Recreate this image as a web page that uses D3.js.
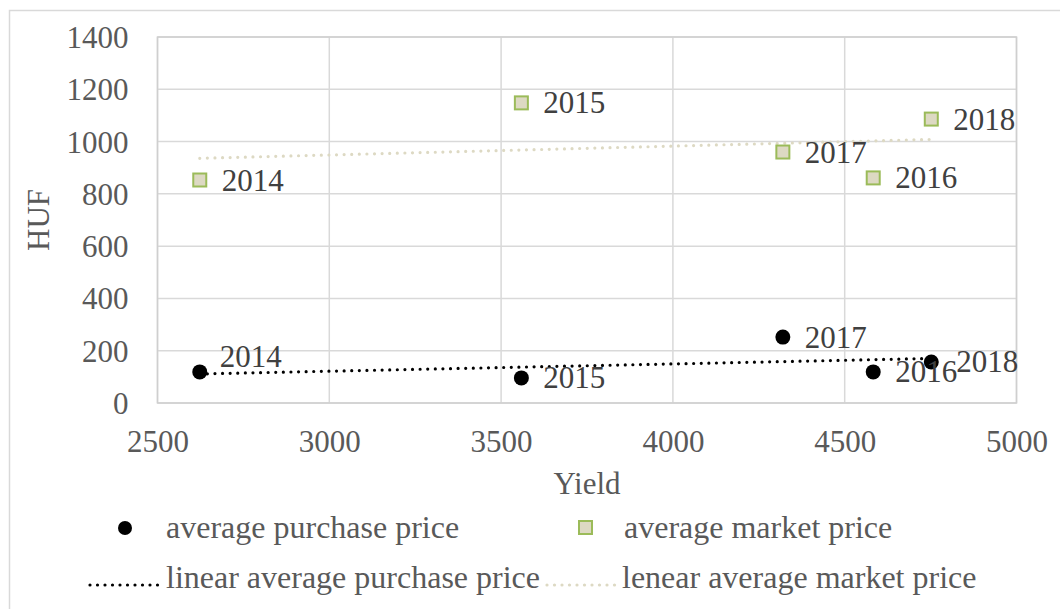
<!DOCTYPE html>
<html>
<head>
<meta charset="utf-8">
<script src="https://cdn.jsdelivr.net/npm/d3@7"></script>
<style>
  html, body { margin: 0; padding: 0; background: #ffffff; }
  svg { display: block; font-family: "Liberation Serif", "Times New Roman", serif; }
</style>
</head>
<body>
<svg id="chart" width="1060" height="609"></svg>
<script>
// Yield vs. price per year
const years = ["2014", "2015", "2016", "2017", "2018"];
const yieldValues = [2623, 3559, 4583, 4320, 4752];
const purchasePrice = [119, 96, 119, 252, 157];
const marketPrice = [853, 1148, 861, 960, 1086];

const xTicks = [2500, 3000, 3500, 4000, 4500, 5000];
const yTicks = [0, 200, 400, 600, 800, 1000, 1200, 1400];

const svg = d3.select("#chart");
const W = 1060, H = 609;
const plot = { left: 157.5, top: 37, right: 1016.5, bottom: 403 };

const x = d3.scaleLinear().domain([2500, 5000]).range([plot.left, plot.right]);
const y = d3.scaleLinear().domain([0, 1400]).range([plot.bottom, plot.top]);

const tickColor = "#595959";
const labelColor = "#404040";
const fontSize = 31;

// outer chart frame
svg.append("rect")
  .attr("x", 9.5).attr("y", 10.5)
  .attr("width", W).attr("height", H)
  .attr("fill", "none").attr("stroke", "#d9d9d9").attr("stroke-width", 1.5);

// gridlines
const grid = svg.append("g");
grid.selectAll("line.v").data(xTicks).join("line")
  .attr("x1", d => x(d)).attr("x2", d => x(d))
  .attr("y1", plot.top).attr("y2", plot.bottom)
  .attr("stroke", "#d9d9d9").attr("stroke-width", 1.5);
grid.selectAll("line.h").data(yTicks).join("line")
  .attr("x1", plot.left).attr("x2", plot.right)
  .attr("y1", d => y(d)).attr("y2", d => y(d))
  .attr("stroke", "#d9d9d9").attr("stroke-width", 1.5);
// plot frame
svg.append("rect")
  .attr("x", plot.left).attr("y", plot.top)
  .attr("width", plot.right - plot.left).attr("height", plot.bottom - plot.top)
  .attr("fill", "none").attr("stroke", "#cfcfcf").attr("stroke-width", 1.5);

// axes (labels only, lines drawn as gridlines)
const xAxis = svg.append("g")
  .attr("transform", `translate(0,${plot.bottom})`)
  .call(d3.axisBottom(x).tickValues(xTicks).tickSize(0).tickPadding(0).tickFormat(d3.format("d")));
xAxis.select(".domain").remove();
xAxis.selectAll("text")
  .attr("y", 49).attr("dy", null)
  .attr("font-size", fontSize).attr("fill", tickColor)
  .attr("font-family", "Liberation Serif");

const yAxis = svg.append("g")
  .attr("transform", `translate(${plot.left},0)`)
  .call(d3.axisLeft(y).tickValues(yTicks).tickSize(0).tickFormat(d3.format("d")));
yAxis.select(".domain").remove();
yAxis.selectAll("text")
  .attr("x", -29).attr("dy", "0.34em")
  .attr("font-size", fontSize).attr("fill", tickColor)
  .attr("font-family", "Liberation Serif");

// axis titles
svg.append("text")
  .attr("x", (plot.left + plot.right) / 2).attr("y", 494)
  .attr("text-anchor", "middle").attr("font-size", fontSize).attr("fill", tickColor)
  .text("Yield");
svg.append("text")
  .attr("transform", `translate(49,${(plot.top + plot.bottom) / 2}) rotate(-90)`)
  .attr("text-anchor", "middle").attr("font-size", fontSize).attr("fill", tickColor)
  .text("HUF");

// least-squares trendline between the smallest and largest yield
function trend(xs, ys) {
  const n = xs.length;
  const mx = d3.mean(xs), my = d3.mean(ys);
  let sxy = 0, sxx = 0;
  for (let i = 0; i < n; i++) {
    sxy += (xs[i] - mx) * (ys[i] - my);
    sxx += (xs[i] - mx) * (xs[i] - mx);
  }
  const b = sxy / sxx, a = my - b * mx;
  const [x0, x1] = d3.extent(xs);
  return [[x0, a + b * x0], [x1, a + b * x1]];
}
const line = d3.line().x(d => x(d[0])).y(d => y(d[1]));

const dotted = (sel, color) => sel
  .attr("fill", "none").attr("stroke", color).attr("stroke-width", 3.2)
  .attr("stroke-linecap", "round").attr("stroke-dasharray", "0 7.6");

svg.append("path").datum(trend(yieldValues, marketPrice)).attr("d", line).call(dotted, "#ddd9c3");
svg.append("path").datum(trend(yieldValues, purchasePrice)).attr("d", line).call(dotted, "#000000");

const purchase = years.map((yr, i) => ({ yr, x: yieldValues[i], v: purchasePrice[i] }));
const market = years.map((yr, i) => ({ yr, x: yieldValues[i], v: marketPrice[i] }));

// markers
svg.append("g").selectAll("rect").data(market).join("rect")
  .attr("x", d => x(d.x) - 6.5).attr("y", d => y(d.v) - 6.5)
  .attr("width", 13).attr("height", 13)
  .attr("fill", "#ddd9c3").attr("stroke", "#9bbb59").attr("stroke-width", 2);
svg.append("g").selectAll("circle").data(purchase).join("circle")
  .attr("cx", d => x(d.x)).attr("cy", d => y(d.v)).attr("r", 7.5)
  .attr("fill", "#000000");

// year labels next to each marker
const purchaseOffset = { "2014": [20, -15], "2018": [25, 0] };
svg.append("g").selectAll("text").data(market).join("text")
  .attr("x", d => x(d.x) + 22).attr("y", d => y(d.v))
  .attr("dy", "0.34em").attr("font-size", fontSize).attr("fill", labelColor)
  .text(d => d.yr);
svg.append("g").selectAll("text").data(purchase).join("text")
  .attr("x", d => x(d.x) + (purchaseOffset[d.yr] ? purchaseOffset[d.yr][0] : 22))
  .attr("y", d => y(d.v) + (purchaseOffset[d.yr] ? purchaseOffset[d.yr][1] : 0))
  .attr("dy", "0.34em").attr("font-size", fontSize).attr("fill", labelColor)
  .text(d => d.yr);

// legend
const legend = svg.append("g").attr("font-size", 32).attr("fill", tickColor);
legend.append("circle").attr("cx", 125).attr("cy", 528).attr("r", 7).attr("fill", "#000");
legend.append("text").attr("x", 166).attr("y", 538).text("average purchase price");
legend.append("rect").attr("x", 579).attr("y", 521).attr("width", 13).attr("height", 13)
  .attr("fill", "#ddd9c3").attr("stroke", "#9bbb59").attr("stroke-width", 2);
legend.append("text").attr("x", 624).attr("y", 538).text("average market price");

legend.append("path").attr("d", "M90,585H158").call(dotted, "#000000").attr("stroke-dasharray", "0 7.5");
legend.append("text").attr("x", 166).attr("y", 588).text("linear average purchase price");
legend.append("path").attr("d", "M547,585H615").call(dotted, "#ddd9c3").attr("stroke-dasharray", "0 7.5");
legend.append("text").attr("x", 622).attr("y", 588).text("lenear average market price");
</script>
</body>
</html>
